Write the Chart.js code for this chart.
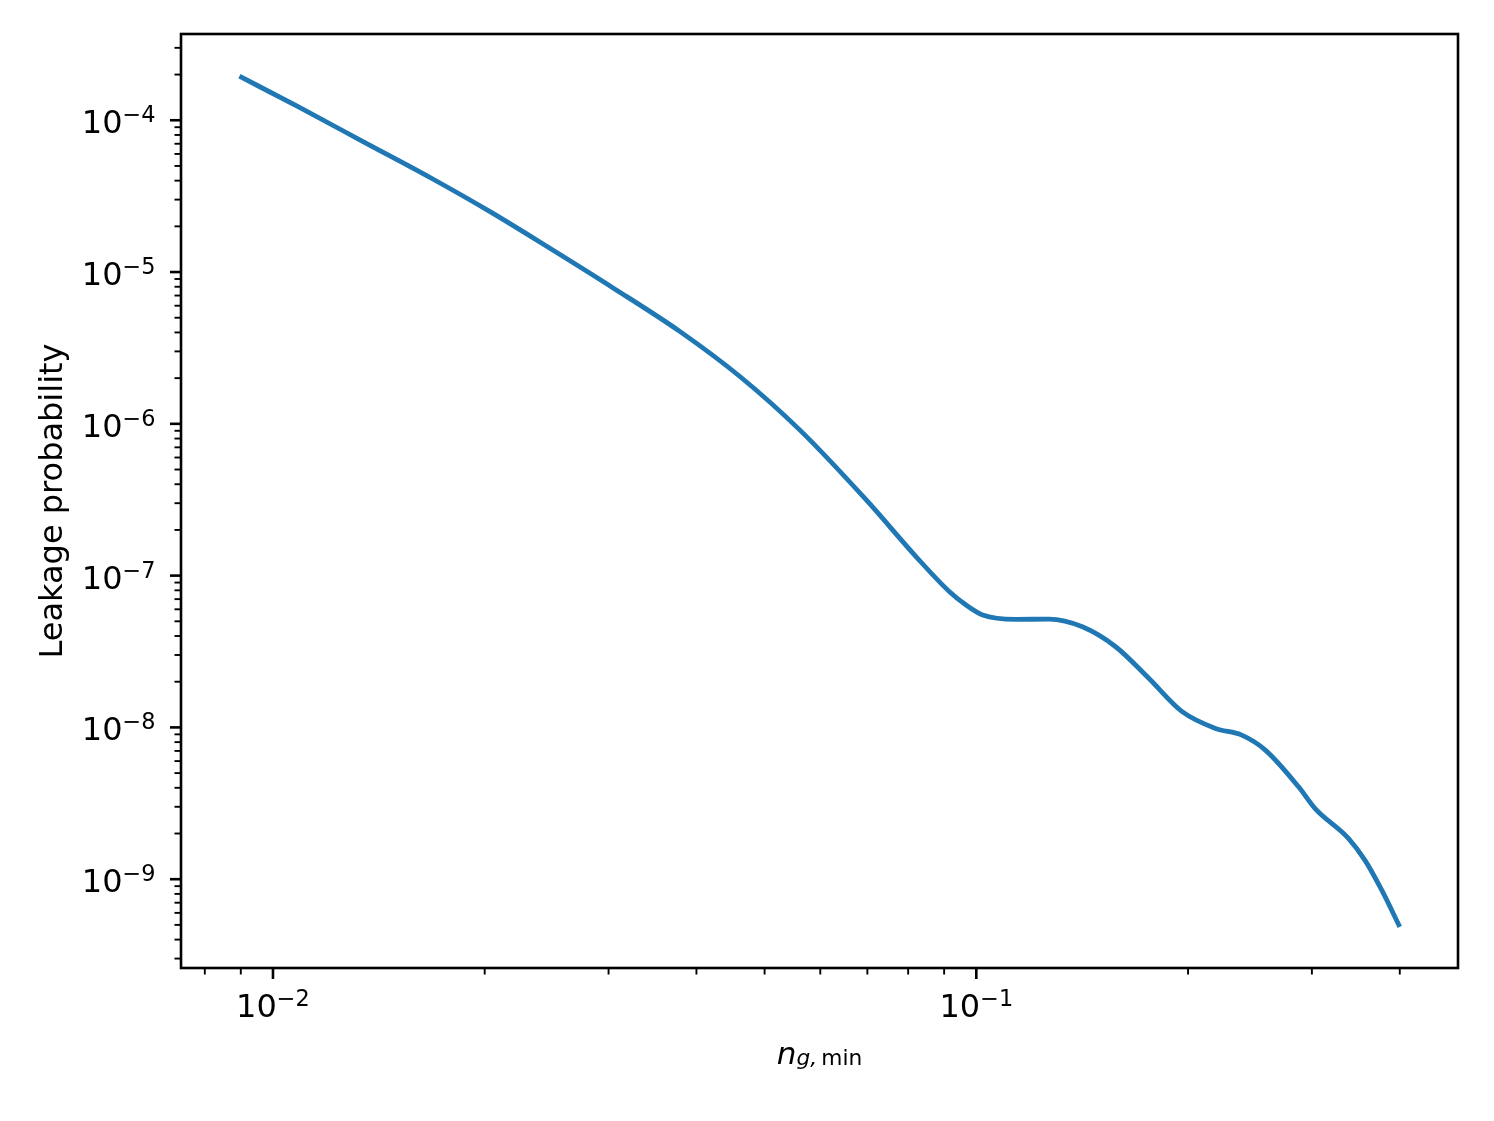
<!DOCTYPE html>
<html>
<head>
<meta charset="utf-8">
<script src="https://cdn.jsdelivr.net/npm/chart.js@4.4.1/dist/chart.umd.min.js"></script>
<style>
  html, body { margin: 0; padding: 0; background: #fff; }
  #wrap { width: 1494px; height: 1121px; }
</style>
</head>
<body>
<div id="wrap"><canvas id="chart" width="1494" height="1121"></canvas></div>
<script>
/* Leakage probability vs n_g,min — log/log line */

// values
const ngMin = [0.00896, 0.01084, 0.01347, 0.01675, 0.02038, 0.02453, 0.03049, 0.03792,
               0.04612, 0.05609, 0.06975, 0.08213, 0.0916, 0.0967, 0.1021, 0.1138,
               0.1269, 0.1415, 0.1578, 0.1760, 0.1962, 0.2188, 0.2385, 0.2576,
               0.2872, 0.3032, 0.3381, 0.3570, 0.3771, 0.40];
const leakage = [1.95e-4, 1.233e-4, 7.18e-5, 4.18e-5, 2.49e-5, 1.473e-5, 7.83e-6, 4.05e-6,
                 2.05e-6, 9.12e-7, 3.15e-7, 1.33e-7, 7.83e-8, 6.40e-8, 5.50e-8, 5.15e-8,
                 5.17e-8, 4.60e-8, 3.40e-8, 2.10e-8, 1.27e-8, 9.85e-9, 8.90e-9, 7.09e-9,
                 4.06e-9, 2.92e-9, 1.86e-9, 1.33e-9, 8.46e-10, 4.85e-10];

const xRange = [0.0074, 0.484];
const yRange = [2.6e-10, 3.7e-4];

const FONT = "'DejaVu Sans', sans-serif";
const LINE_BLUE = '#1f77b4';

function isMajor(v) {
  const l = Math.log10(v);
  return Math.abs(l - Math.round(l)) < 1e-9;
}

// 1..9 x 10^n inside [min, max]
function logTicks(min, max) {
  const out = [];
  for (let e = Math.floor(Math.log10(min)); e <= Math.ceil(Math.log10(max)); e++) {
    for (let k = 1; k <= 9; k++) {
      const v = k * Math.pow(10, e);
      if (v >= min && v <= max) out.push({ value: v });
    }
  }
  return out;
}

// "10" plus a raised exponent, like matplotlib mathtext
function drawPow(ctx, v, x, base, align) {
  const exp = '\u2212' + Math.abs(Math.round(Math.log10(v)));
  ctx.font = '32px ' + FONT;
  const w10 = ctx.measureText('10').width;
  ctx.font = '22.4px ' + FONT;
  const wE = ctx.measureText(exp).width;
  let x0 = align === 'right' ? x - w10 - wE : x - (w10 + wE) / 2;
  ctx.font = '32px ' + FONT;
  ctx.fillText('10', x0, base);
  ctx.font = '22.4px ' + FONT;
  ctx.fillText(exp, x0 + w10, base - 11);
}

// matplotlib-ish frame, outward ticks, tick labels and the mathtext x label
const axesFrame = {
  id: 'axesFrame',
  afterDraw(chart) {
    const { ctx, chartArea: a, scales: { x, y } } = chart;
    ctx.save();
    ctx.strokeStyle = '#000';
    ctx.fillStyle = '#000';
    ctx.lineCap = 'butt';
    ctx.textAlign = 'left';
    ctx.textBaseline = 'alphabetic';

    x.ticks.forEach(t => {
      const px = x.getPixelForValue(t.value);
      const major = isMajor(t.value);
      ctx.lineWidth = major ? 2.6 : 1.9;
      ctx.beginPath();
      ctx.moveTo(px, a.bottom);
      ctx.lineTo(px, a.bottom + (major ? 11 : 6.5));
      ctx.stroke();
      if (major) drawPow(ctx, t.value, px, a.bottom + 48.7, 'center');
    });
    y.ticks.forEach(t => {
      const py = y.getPixelForValue(t.value);
      const major = isMajor(t.value);
      ctx.lineWidth = major ? 2.6 : 1.9;
      ctx.beginPath();
      ctx.moveTo(a.left, py);
      ctx.lineTo(a.left - (major ? 11 : 6.5), py);
      ctx.stroke();
      if (major) drawPow(ctx, t.value, a.left - 25.5, py + 13, 'right');
    });

    ctx.lineWidth = 2.6;
    ctx.strokeRect(a.left, a.top, a.right - a.left, a.bottom - a.top);

    // n_{g, min}
    const base = a.bottom + 96;
    const big = 'italic 31px ' + FONT;
    const subIt = 'italic 21.7px ' + FONT;
    const subUp = '21.7px ' + FONT;
    ctx.font = big;    const wN = ctx.measureText('n').width;
    ctx.font = subIt;  const wG = ctx.measureText('g,').width;
    ctx.font = subUp;  const wM = ctx.measureText('\u2009min').width;
    let cx = (a.left + a.right) / 2 - (wN + wG + wM) / 2;
    ctx.font = big;   ctx.fillText('n', cx, base);            cx += wN;
    ctx.font = subIt; ctx.fillText('g,', cx, base + 1);       cx += wG;
    ctx.font = subUp; ctx.fillText('\u2009min', cx, base + 1);
    ctx.restore();
  }
};

new Chart(document.getElementById('chart'), {
  type: 'line',
  data: {
    datasets: [{
      data: ngMin.map((v, i) => ({ x: v, y: leakage[i] })),
      borderColor: LINE_BLUE,
      borderWidth: 4.8,
      pointRadius: 0,
      fill: false,
      cubicInterpolationMode: 'monotone'
    }]
  },
  options: {
    responsive: false,
    animation: false,
    layout: { padding: { left: 38, top: 34, right: 36, bottom: 0 }, autoPadding: false },
    plugins: { legend: { display: false }, tooltip: { enabled: false } },
    scales: {
      x: {
        type: 'logarithmic',
        min: xRange[0],
        max: xRange[1],
        afterBuildTicks: s => { s.ticks = logTicks(xRange[0], xRange[1]); },
        afterFit: s => { s.height = 153; },
        grid: { display: false },
        border: { display: false },
        ticks: { display: false }
      },
      y: {
        type: 'logarithmic',
        min: yRange[0],
        max: yRange[1],
        afterBuildTicks: s => { s.ticks = logTicks(yRange[0], yRange[1]); },
        afterFit: s => { s.width = 143; },
        grid: { display: false },
        border: { display: false },
        title: {
          display: true, text: 'Leakage probability', color: '#000',
          font: { family: FONT, size: 32, lineHeight: 1 }, padding: 0
        },
        ticks: { display: false }
      }
    }
  },
  plugins: [axesFrame]
});
</script>
</body>
</html>
